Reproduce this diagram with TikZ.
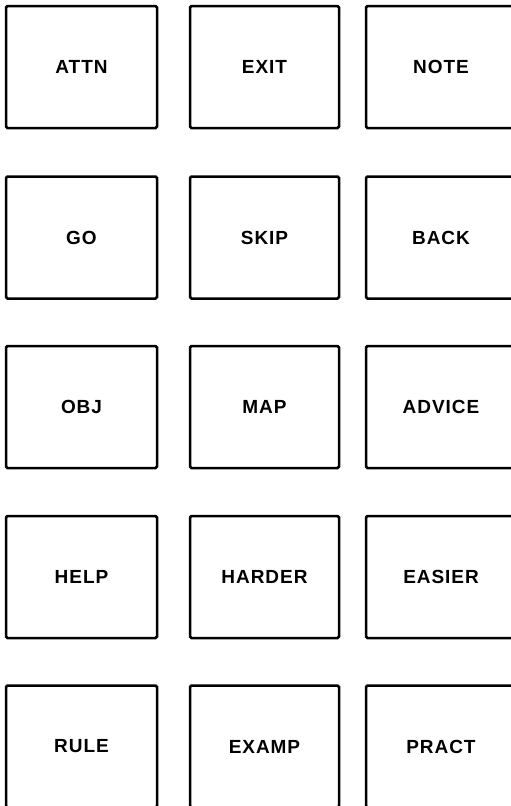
\documentclass[tikz,border=0pt]{standalone}
\usepackage{fontspec}
\setmainfont{Liberation Sans}[LetterSpace=5]
\begin{document}
\begin{tikzpicture}[x=1pt,y=-1pt,
  keybox/.style={draw=black, line width=2.5pt, rounded corners=1.5pt, fill=white,
    minimum height=122pt, inner sep=0pt,
    font=\fontsize{19}{21}\selectfont\bfseries, text=black},
  colA/.style={keybox, minimum width=151pt},
  colB/.style={keybox, minimum width=149pt},
  colC/.style={keybox, minimum width=150pt}]
\useasboundingbox (0,0) rectangle (511,806);
\clip (0,0) rectangle (511,806);
% row 1
\node[colA] (attn) at (81.5,67) {ATTN};
\node[colB] (exit) at (264.5,67) {EXIT};
\node[colC] (note) at (441,67) {NOTE};
% row 2
\node[colA] (go) at (81.5,237.5) {GO};
\node[colB] (skip) at (264.5,237.5) {SKIP};
\node[colC] (back) at (441,237.5) {BACK};
% row 3
\node[colA] (obj) at (81.5,407) {OBJ};
\node[colB] (map) at (264.5,407) {MAP};
\node[colC] (advice) at (441,407) {ADVICE};
% row 4
\node[colA] (help) at (81.5,577) {HELP};
\node[colB] (harder) at (264.5,577) {HARDER};
\node[colC] (easier) at (441,577) {EASIER};
% row 5
\node[colA] (rule) at (81.5,746.5) {RULE};
\node[colB] (examp) at (264.5,746.5) {EXAMP};
\node[colC] (pract) at (441,746.5) {PRACT};
\end{tikzpicture}
\end{document}
